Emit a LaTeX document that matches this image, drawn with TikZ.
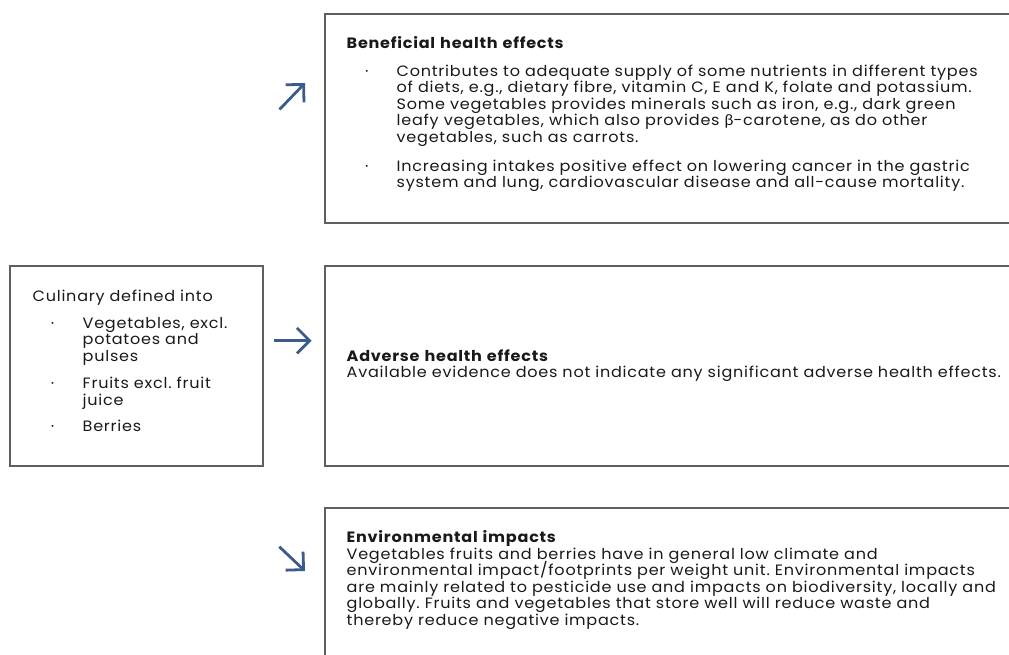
\documentclass[tikz,border=0pt]{standalone}
\usepackage{fontspec}
\setmainfont{Poppins}[FakeStretch=1.07, LetterSpace=5]
\newfontfamily\grkfont{Lato}[FakeStretch=1.07]
\usetikzlibrary{arrows.meta,positioning}
\definecolor{c1}{HTML}{5F5F5F}
\definecolor{c2}{HTML}{3B5B8E}
\newcommand\bdot{\noindent\llap{\makebox[30pt][l]{\makebox[0pt]{\textperiodcentered}}}}
\frenchspacing

\begin{document}
\begin{tikzpicture}[x=1pt,y=1pt,
  box/.style={draw=c1, line width=1.8pt, anchor=north west, inner sep=0pt,
              outer sep=0pt, minimum width=#1},
  txt/.style={anchor=base west, inner sep=0pt, text=black!90, align=left,
              text width=#1, font=\fontsize{15}{16.5}\selectfont,
              execute at begin node={\lineskiplimit=-100pt\parskip=0pt}},
  pointer/.style={-{Straight Barb[angle=90:18pt]}, c2, line width=2.8pt},
]
  \useasboundingbox (0,0) rectangle (1009,-654);
  \clip (0,0) rectangle (1009,-654);

  \node[box=253pt, minimum height=200pt] (food) at (10,-266) {};
  \node[box=700pt, minimum height=209pt] (bene) at (325,-14) {};
  \node[box=700pt, minimum height=200pt] (adv) at (325,-266) {};
  \node[box=700pt, minimum height=200pt] (env) at (325,-508) {};

  \node[txt=225pt] (foodtxt) at ([shift={(22.5,-35)}]food.north west) {%
    Culinary defined into\par\vspace{10.5pt}
    \leftskip=50pt
    \bdot Vegetables, excl.\\ potatoes and\\ pulses\par\vspace{11pt}
    \bdot Fruits excl. fruit\\ juice\par\vspace{10pt}
    \bdot Berries\par};

  \node[txt=680pt] (benetxt) at ([shift={(21.5,-34.3)}]bene.north west) {%
    \textbf{Beneficial health effects}\par\vspace{11.2pt}
    \leftskip=50pt
    \bdot Contributes to adequate supply of some nutrients in different types\\
    of diets, e.g., dietary fibre, vitamin C, E and K, folate and potassium.\\
    Some vegetables provides minerals such as iron, e.g., dark green\\
    leafy vegetables, which also provides {\grkfont β}-carotene, as do other\\
    vegetables, such as carrots.\par\vspace{12.5pt}
    \bdot Increasing intakes positive effect on lowering cancer in the gastric\\
    system and lung, cardiovascular disease and all-cause mortality.\par};

  \node[txt=680pt] (advtxt) at ([shift={(21.5,-95)}]adv.north west) {%
    \textbf{Adverse health effects}\\
    Available evidence does not indicate any significant adverse health effects.\par};

  \node[txt=680pt] (envtxt) at ([shift={(21.5,-34.7)}]env.north west) {%
    \textbf{Environmental impacts}\\
    Vegetables fruits and berries have in general low climate and\\
    environmental impact/footprints per weight unit. Environmental impacts\\
    are mainly related to pesticide use and impacts on biodiversity, locally and\\
    globally. Fruits and vegetables that store well will reduce waste and\\
    thereby reduce negative impacts.\par};

  % pijlen tussen de kaders
  \coordinate (up0) at (279.5,-109.5);
  \coordinate (up1) at (305,-83);
  \coordinate (mid0) at (274,-340.7);
  \coordinate (mid1) at (311.7,-340.7);
  \coordinate (dn0) at (279.3,-546.7);
  \coordinate (dn1) at (305,-571);
  \draw[pointer] (up0) -- (up1);
  \draw[pointer] (mid0) -- (mid1);
  \draw[pointer] (dn0) -- (dn1);
\end{tikzpicture}
\end{document}
